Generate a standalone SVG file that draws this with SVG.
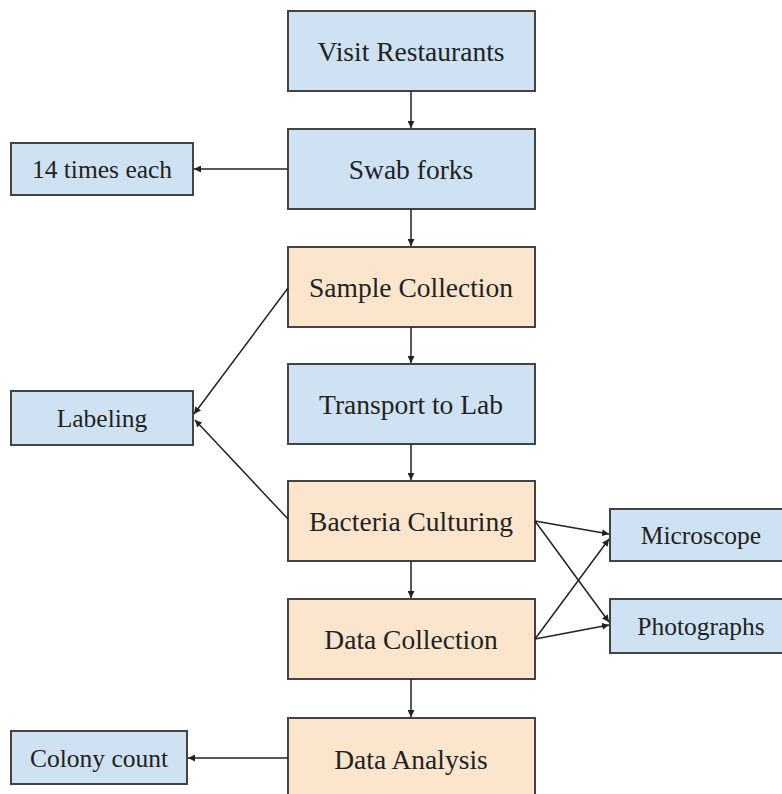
<svg xmlns="http://www.w3.org/2000/svg" width="782" height="794" viewBox="0 0 782 794">
<defs>
<marker id="ah" viewBox="0 0 10 10" refX="10" refY="5" markerWidth="7" markerHeight="7" markerUnits="userSpaceOnUse" orient="auto">
<path d="M0,0 L10,5 L0,10 z" fill="#222"/>
</marker>
<style>
.blue{fill:#cfe2f3;stroke:#434343;stroke-width:2}
.orange{fill:#fce5cd;stroke:#434343;stroke-width:2}
text{font-family:'Liberation Serif','Times New Roman',serif;fill:#222;text-anchor:middle;dominant-baseline:central}
.big{font-size:27.5px}
.small{font-size:25.5px}
.conn line{stroke:#222;stroke-width:1.5;marker-end:url(#ah)}
</style>
</defs>
<rect width="782" height="794" fill="#fff"/>
<g font-family="Liberation Serif, serif">
<g id="visit"><rect class="blue" x="288" y="11" width="247" height="80"/><text class="big" x="411" y="51">Visit Restaurants</text></g>
<g id="swab"><rect class="blue" x="288" y="129" width="247" height="80"/><text class="big" x="411" y="169">Swab forks</text></g>
<g id="sample"><rect class="orange" x="288" y="247" width="247" height="80"/><text class="big" x="411" y="287">Sample Collection</text></g>
<g id="transport"><rect class="blue" x="288" y="364" width="247" height="80"/><text class="big" x="411" y="404">Transport to Lab</text></g>
<g id="bacteria"><rect class="orange" x="288" y="481" width="247" height="80"/><text class="big" x="411" y="521">Bacteria Culturing</text></g>
<g id="datacoll"><rect class="orange" x="288" y="599" width="247" height="80"/><text class="big" x="411" y="639">Data Collection</text></g>
<g id="analysis"><rect class="orange" x="288" y="718" width="247" height="90"/><text class="big" x="411" y="759">Data Analysis</text></g>
<g id="times"><rect class="blue" x="11" y="143" width="182" height="52"/><text class="small" x="102" y="169">14 times each</text></g>
<g id="labeling"><rect class="blue" x="11" y="391" width="182" height="54"/><text class="small" x="102" y="418">Labeling</text></g>
<g id="colony"><rect class="blue" x="11" y="731" width="176" height="53"/><text class="small" x="99" y="758">Colony count</text></g>
<g id="microscope"><rect class="blue" x="610" y="509" width="174" height="52"/><text class="small" x="701" y="535">Microscope</text></g>
<g id="photos"><rect class="blue" x="610" y="599" width="174" height="54"/><text class="small" x="701" y="626">Photographs</text></g>
</g>
<g id="connectors" class="conn">
<line x1="411" y1="91" x2="411" y2="128"/>
<line x1="411" y1="209" x2="411" y2="246"/>
<line x1="411" y1="327" x2="411" y2="363"/>
<line x1="411" y1="444" x2="411" y2="480"/>
<line x1="411" y1="561" x2="411" y2="598"/>
<line x1="411" y1="679" x2="411" y2="717"/>
<line x1="288" y1="169" x2="194" y2="169"/>
<line x1="288" y1="758" x2="188" y2="758"/>
<line x1="288" y1="288" x2="194" y2="414"/>
<line x1="288" y1="519" x2="195" y2="420"/>
<line x1="535" y1="521" x2="609" y2="534"/>
<line x1="535" y1="521" x2="609" y2="622"/>
<line x1="535" y1="639" x2="609" y2="539"/>
<line x1="535" y1="639" x2="609" y2="625"/>
</g>
</svg>
